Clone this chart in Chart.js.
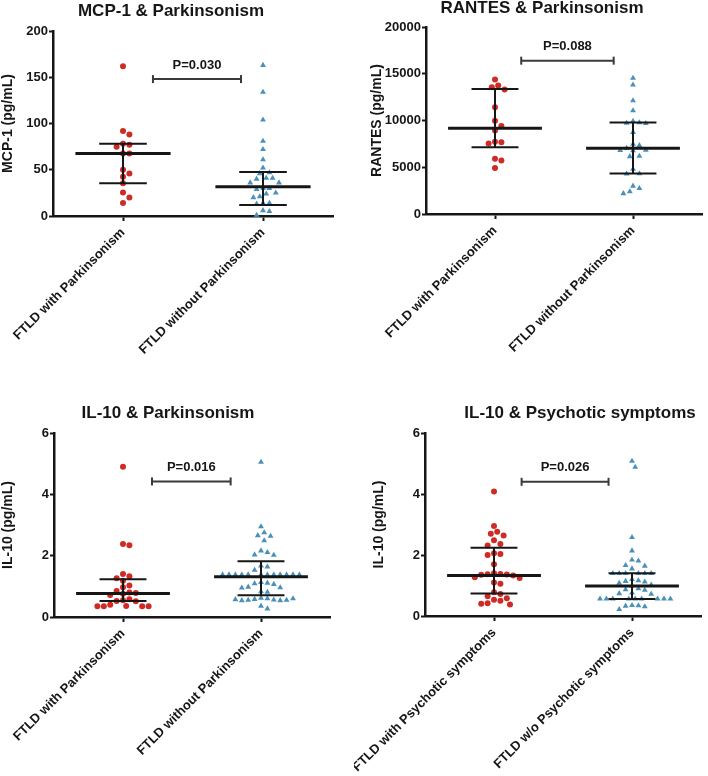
<!DOCTYPE html>
<html>
<head>
<meta charset="utf-8">
<script src="https://cdn.jsdelivr.net/npm/chart.js@4.4.1/dist/chart.umd.min.js"></script>
<style>
    body { margin: 0; background: #fff; }
    #wrap { position: relative; width: 708px; height: 776px; }
    #wrap canvas { position: absolute; }
</style>
</head>
<body>
<div id="wrap">
    <canvas id="c1" width="354" height="388" style="left:0;top:0"></canvas>
    <canvas id="c2" width="354" height="388" style="left:354px;top:0"></canvas>
    <canvas id="c3" width="354" height="388" style="left:0;top:388px"></canvas>
    <canvas id="c4" width="354" height="388" style="left:354px;top:388px"></canvas>
</div>
<script>
// ---- data ----
var parkLabels = ['FTLD with Parkinsonism', 'FTLD without Parkinsonism'];
var psyLabels = ['FTLD with Psychotic symptoms', 'FTLD w/o Psychotic symptoms'];

var mcpWith = [162, 92, 88, 78, 77, 75, 67.5, 67.5, 50, 46, 42.5, 35.5, 25.5, 20, 14];
var mcpWithout = [163, 134, 104, 81, 72, 61, 52, 47, 46, 41, 41, 40, 36, 36, 30, 30, 29, 25, 24, 21, 20, 14, 14, 13, 6, 5, 1];
var mcpMedian = [67.5, 31.5];
var mcpQ1 = [35.5, 12];
var mcpQ3 = [78, 47.5];

var rantesWith = [14380, 13740, 13560, 13310, 11420, 9960, 9420, 8920, 7740, 7670, 7530, 5920, 5710, 4930];
var rantesWithout = [14530, 13810, 12130, 11060, 9920, 9780, 9720, 9700, 8750, 7480, 7350, 7050, 6850, 6820, 6780, 6200, 6150, 4800, 4320, 4300, 3000, 2750, 2400, 2200];
var rantesMedian = [9170, 7030];
var rantesQ1 = [7140, 4320];
var rantesQ3 = [13380, 9780];

var il10ParkWith = [4.9, 2.38, 2.34, 1.40, 1.33, 1.26, 1.18, 1.03, 0.97, 0.85, 0.80, 0.78, 0.76, 0.72, 0.58, 0.55, 0.52, 0.51, 0.40, 0.36, 0.35, 0.35, 0.35, 0.35];
var il10ParkWithout = [5.05, 2.95, 2.75, 2.66, 2.64, 2.49, 2.16, 2.11, 2.03, 2.02, 1.67, 1.64, 1.53,
    1.38, 1.38, 1.38, 1.38, 1.38, 1.38, 1.38, 1.38, 1.38, 1.38, 1.38, 1.38,
    1.13, 1.11, 1.09, 1.07, 0.98, 0.96, 0.95, 0.83, 0.81,
    0.62, 0.60, 0.58, 0.56, 0.55, 0.54, 0.54, 0.55, 0.57, 0.60, 0.36, 0.27];
var il10ParkMedian = [0.77, 1.31];
var il10ParkQ1 = [0.52, 0.71];
var il10ParkQ3 = [1.23, 1.82];

var il10PsyWith = [4.08, 2.95, 2.76, 2.70, 2.64, 2.48, 2.36, 2.31, 2.06, 2.03, 2.00, 1.70, 1.40, 1.38, 1.37, 1.36, 1.35, 1.33, 1.27, 1.25, 1.10, 1.06, 0.78, 0.72, 0.65, 0.58, 0.53, 0.50, 0.42, 0.40, 0.38];
var il10PsyWithout = [5.08, 4.88, 2.58, 2.14, 1.84, 1.81, 1.66, 1.64, 1.55, 1.40, 1.40, 1.40, 1.40, 1.40, 1.40,
    1.20, 1.16, 1.14, 1.12, 1.08, 1.02, 0.99, 0.90, 0.87, 0.85, 0.76, 0.74, 0.72,
    0.56, 0.56, 0.56, 0.56, 0.56, 0.56, 0.56, 0.56, 0.56, 0.35, 0.34, 0.33, 0.31, 0.22];
var il10PsyMedian = [1.33, 0.98];
var il10PsyQ1 = [0.74, 0.56];
var il10PsyQ3 = [2.24, 1.40];

var pValues = ['P=0.030', 'P=0.088', 'P=0.016', 'P=0.026'];
var pLevels = [148, 16400, 4.42, 4.4];

// ---- look ----
var FONT = 'Arial, "Liberation Sans", Helvetica, sans-serif';
var RED = '#cf2b26';
var BLUE = '#4b90b9';
var INK = '#161616';

var panels = [
    { id: 'c1', title: 'MCP-1 & Parkinsonism', tx: 171, ty: 11, yTitle: 'MCP-1 (pg/mL)', yPad: 0,
      labels: parkLabels, groups: [mcpWith, mcpWithout], med: mcpMedian, q1: mcpQ1, q3: mcpQ3,
      yMax: 200, yStep: 50, p: 0, bx: [0.214, 0.843], area: { left: 53, top: 31, right: 333, bottom: 216 } },
    { id: 'c2', title: 'RANTES & Parkinsonism', tx: 188, ty: 8, yTitle: 'RANTES (pg/mL)', yPad: 15,
      labels: parkLabels, groups: [rantesWith, rantesWithout], med: rantesMedian, q1: rantesQ1, q3: rantesQ3,
      yMax: 20000, yStep: 5000, p: 1, bx: [0.19, 0.86], area: { left: 72, top: 27, right: 353, bottom: 214 } },
    { id: 'c3', title: 'IL-10 & Parkinsonism', tx: 168, ty: 25, yTitle: 'IL-10 (pg/mL)', yPad: 0,
      labels: parkLabels, groups: [il10ParkWith, il10ParkWithout], med: il10ParkMedian, q1: il10ParkQ1, q3: il10ParkQ3,
      yMax: 6, yStep: 2, p: 2, bx: [0.21, 0.78], area: { left: 54, top: 45, right: 330, bottom: 229 } },
    { id: 'c4', title: 'IL-10 & Psychotic symptoms', tx: 226, ty: 25, yTitle: 'IL-10 (pg/mL)', yPad: 17,
      labels: psyLabels, groups: [il10PsyWith, il10PsyWithout], med: il10PsyMedian, q1: il10PsyQ1, q3: il10PsyQ3,
      yMax: 6, yStep: 2, p: 3, bx: [0.2, 0.83], area: { left: 71, top: 45, right: 347, bottom: 228 } }
];

// title and P value text
var panelText = {
    id: 'panelText',
    afterDraw: function(chart, args, o) {
        var ctx = chart.ctx;
        var xs = chart.scales.x, ys = chart.scales.y;
        ctx.save();
        ctx.fillStyle = INK;
        ctx.textAlign = 'center';
        ctx.textBaseline = 'middle';
        ctx.font = 'bold 17px ' + FONT;
        ctx.fillText(o.title, o.tx, o.ty);
        ctx.font = 'bold 13px ' + FONT;
        var mid = (xs.getPixelForValue(o.bx[0]) + xs.getPixelForValue(o.bx[1])) / 2;
        ctx.fillText(o.pText, mid, ys.getPixelForValue(o.pLevel) - 14);
        ctx.restore();
    }
};

function seg(x1, y1, x2, y2, w) {
    return {
        type: 'line', data: [{ x: x1, y: y1 }, { x: x2, y: y2 }],
        borderColor: INK, borderWidth: w, pointRadius: 0, clip: false
    };
}

function makeChart(p) {
    var datasets = [];
    for (var g = 0; g < 2; g++) {
        datasets.push(seg(g - 0.34, p.med[g], g + 0.34, p.med[g], 3));
        datasets.push(seg(g - 0.17, p.q1[g], g + 0.17, p.q1[g], 2));
        datasets.push(seg(g - 0.17, p.q3[g], g + 0.17, p.q3[g], 2));
        datasets.push(seg(g, p.q1[g], g, p.q3[g], 2));
    }
    // significance bracket
    datasets.push({
        type: 'line',
        data: [{ x: p.bx[0], y: pLevels[p.p] }, { x: p.bx[1], y: pLevels[p.p] }],
        borderColor: '#3a3a3a', borderWidth: 2,
        pointStyle: 'line', pointRotation: 90, pointRadius: 4,
        pointBorderColor: '#3a3a3a', pointBorderWidth: 2, clip: false
    });
    p.groups.forEach(function(vals, g) {
        datasets.push({
            type: 'scatter', swarm: true,
            data: vals.map(function(v) { return { x: g, y: v }; }),
            pointStyle: g === 0 ? 'circle' : 'triangle',
            pointRadius: g === 0 ? 3 : 3.4,
            backgroundColor: g === 0 ? RED : BLUE,
            borderColor: g === 0 ? RED : BLUE,
            borderWidth: 0, clip: false
        });
    });

    var a = p.area;
    return new Chart(document.getElementById(p.id), {
        type: 'scatter',
        data: { datasets: datasets },
        plugins: [panelText],
        options: {
            responsive: false,
            animation: false,
            events: [],
            layout: { padding: { top: a.top, left: 0, right: 354 - a.right, bottom: 0 } },
            plugins: {
                legend: { display: false },
                tooltip: { enabled: false },
                panelText: { title: p.title, tx: p.tx, ty: p.ty, pText: pValues[p.p], pLevel: pLevels[p.p], bx: p.bx }
            },
            scales: {
                x: {
                    type: 'linear', min: -0.5, max: 1.5,
                    afterBuildTicks: function(s) { s.ticks = [{ value: 0 }, { value: 1 }]; },
                    afterFit: function(s) { s.height = 388 - a.bottom; s.paddingLeft = 0; s.paddingRight = 0; },
                    ticks: {
                        autoSkip: false, minRotation: 45, maxRotation: 45, padding: 4,
                        color: INK, font: { family: FONT, size: 13, weight: 'bold' },
                        callback: function(v) { return p.labels[v]; }
                    },
                    grid: { drawOnChartArea: false, drawTicks: true, tickLength: 5, tickWidth: 2, tickColor: INK },
                    border: { display: true, color: INK, width: 2.5 }
                },
                y: {
                    min: 0, max: p.yMax,
                    afterFit: function(s) { s.width = a.left; },
                    ticks: {
                        stepSize: p.yStep, padding: 1, color: INK,
                        font: { family: FONT, size: 13, weight: 'bold' },
                        callback: function(v) { return String(v); }
                    },
                    grid: { drawOnChartArea: false, drawTicks: true, tickLength: 4, tickWidth: 2, tickColor: INK },
                    border: { display: true, color: INK, width: 2.5 },
                    title: {
                        display: true, text: p.yTitle, color: INK,
                        font: { family: FONT, size: 14, weight: 'bold' },
                        padding: { top: p.yPad, bottom: 0 }
                    }
                }
            }
        }
    });
}

// spread equal-ish values sideways (beeswarm) using the chart's own scales
function swarm(chart) {
    var xs = chart.scales.x, ys = chart.scales.y;
    var unit = xs.getPixelForValue(1) - xs.getPixelForValue(0);
    var D = 6.4, step = D / 2;
    chart.data.datasets.forEach(function(ds) {
        if (!ds.swarm) return;
        var placed = [];
        ds.data = ds.data.map(function(pt) {
            var py = ys.getPixelForValue(pt.y);
            var off = 0;
            for (var k = 0; k < 80; k++) {
                var cand = (k % 2 === 1 ? 1 : -1) * Math.ceil(k / 2) * step;
                var ok = placed.every(function(q) {
                    var dx = q.x - cand, dy = q.y - py;
                    return dx * dx + dy * dy >= D * D - 0.01;
                });
                if (ok) { off = cand; break; }
            }
            placed.push({ x: off, y: py });
            return { x: pt.x + off / unit, y: pt.y };
        });
    });
    chart.update('none');
}

panels.forEach(function(p) {
    swarm(makeChart(p));
});
</script>
</body>
</html>
